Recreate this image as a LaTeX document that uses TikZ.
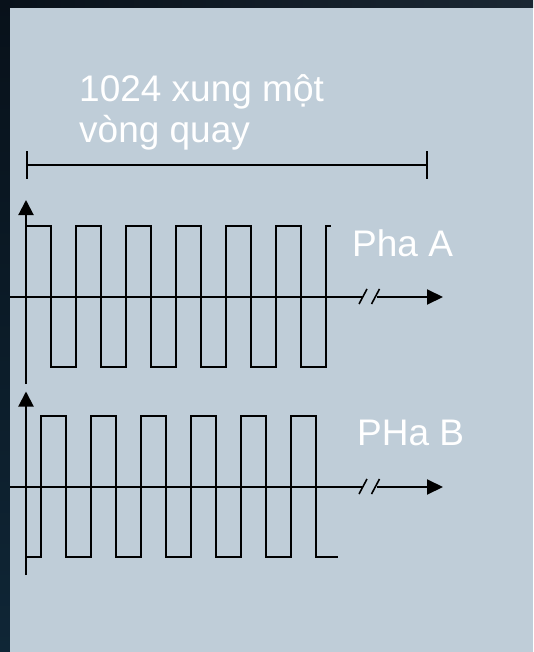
\documentclass[tikz,border=0pt]{standalone}
\usepackage{fontspec}
\setmainfont{Liberation Sans}
\usetikzlibrary{arrows.meta}
\definecolor{panel}{HTML}{BFCDD8}
\definecolor{darkA}{HTML}{08111A}
\definecolor{darkB}{HTML}{1A2733}
\definecolor{darkL}{HTML}{0F2636}
\tikzset{
  lbl/.style={anchor=base west, inner sep=0pt, text=white, font=\fontsize{37}{41}\selectfont},
  wave/.style={line width=2pt, line join=miter, black},
  axisline/.style={line width=1.6pt, black},
  vaxis/.style={line width=2pt, black, -{Triangle[length=15pt,width=15pt]}},
  haxis/.style={line width=2pt, black, -{Triangle[length=16pt,width=15pt]}},
  brk/.style={line width=1.6pt, black},
}
\begin{document}
\begin{tikzpicture}[x=1pt,y=-1pt]
\useasboundingbox (0,0) rectangle (533,652);
\shade[left color=darkA, right color=darkB] (0,0) rectangle (533,8);
\shade[top color=darkA, bottom color=darkL] (0,0) rectangle (10,652);
\fill[panel] (10,8) rectangle (533,652);

% title and dimension line
\node[lbl] (t1) at (79,102) {1024 xung một};
\node[lbl] (t2) at (79,143) {vòng quay};
\coordinate (dl) at (26.5,165);
\coordinate (dr) at (427,165);
\draw[line width=2pt] (dl) -- (dr);
\draw[line width=2pt] ([yshift=-14pt]dl) -- ([yshift=14pt]dl);
\draw[line width=2pt] ([yshift=-14pt]dr) -- ([yshift=14pt]dr);

% ---- Phase A ----
\coordinate (aO) at (26,384);
\coordinate (aT) at (26,200);
\draw[vaxis] (aO) -- (aT);
\coordinate (ah0) at (10,297);
\coordinate (ah1) at (363,297);
\coordinate (ah2) at (377,297);
\coordinate (ah3) at (443,297);
\draw[axisline] (ah0) -- (ah1);
\draw[haxis] (ah2) -- (ah3);
\draw[brk] (359,304) -- (367,289);
\draw[brk] (371.5,304) -- (379.5,289);
\draw[wave] (26,226)
  \foreach \k in {0,...,5} {
    -- ({50.5+50*\k},226) -- ({50.5+50*\k},367) -- ({75.8+50*\k},367) -- ({75.8+50*\k},226)
  } -- (331,226);
\node[lbl] (pa) at (352,256) {Pha A};

% ---- Phase B ----
\coordinate (bO) at (26,575);
\coordinate (bT) at (26,391.5);
\draw[vaxis] (bO) -- (bT);
\coordinate (bh0) at (10,487);
\coordinate (bh1) at (363,487);
\coordinate (bh2) at (377,487);
\coordinate (bh3) at (443,487);
\draw[axisline] (bh0) -- (bh1);
\draw[haxis] (bh2) -- (bh3);
\draw[brk] (359,494) -- (367,479);
\draw[brk] (371.5,494) -- (379.5,479);
\draw[wave] (26,557)
  \foreach \k in {0,...,5} {
    -- ({41+50*\k},557) -- ({41+50*\k},416) -- ({66.2+50*\k},416) -- ({66.2+50*\k},557)
  } -- (338,557);
\node[lbl] (pb) at (357,445) {PHa B};
\end{tikzpicture}
\end{document}
